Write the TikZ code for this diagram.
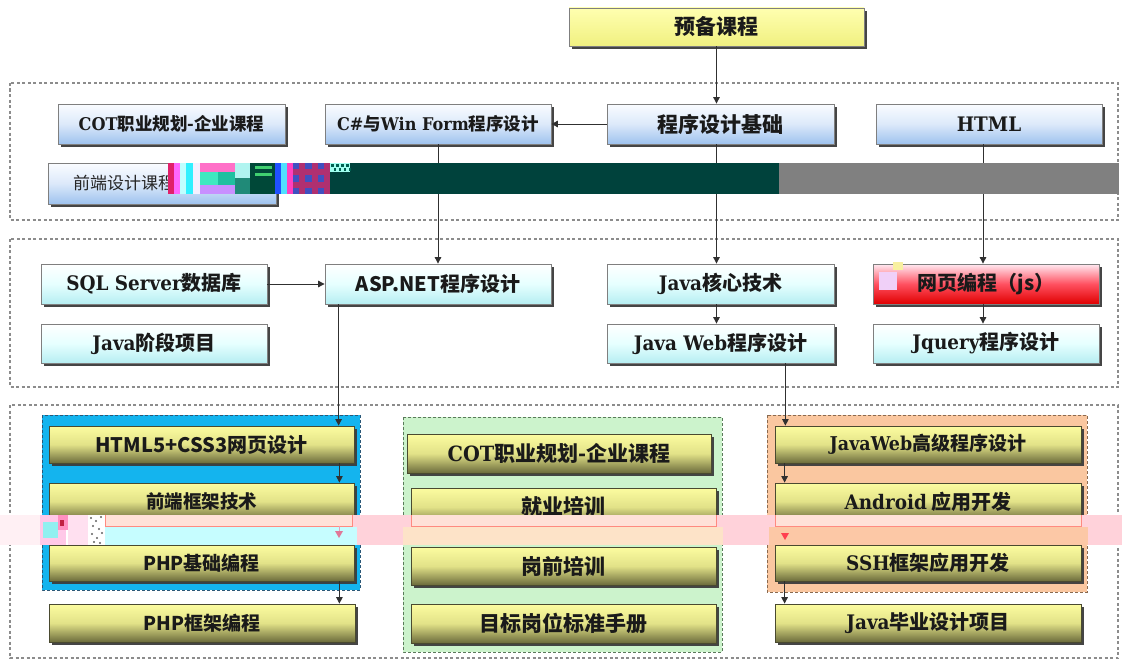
\documentclass[tikz,border=0pt]{standalone}
\usepackage{fontspec}
\setmainfont{Noto Sans CJK SC}
\newfontfamily\ser{DejaVu Serif}[FakeStretch=0.92]
\usetikzlibrary{arrows.meta,shadows}
\definecolor{boxline}{HTML}{7F7F7F}
\definecolor{oliveline}{HTML}{4A4A30}
\definecolor{shadowc}{HTML}{3C3C3C}
\definecolor{txt}{HTML}{1A1A1A}
\definecolor{arrc}{HTML}{303030}
\definecolor{contc}{HTML}{8C8C8C}
\definecolor{rowatop}{HTML}{FAFCFF}
\definecolor{rowamid}{HTML}{DCE9FA}
\definecolor{rowabot}{HTML}{9EC2EE}
\definecolor{rowbtop}{HTML}{FFFFFF}
\definecolor{rowbmid}{HTML}{E6FFFF}
\definecolor{rowbbot}{HTML}{B6EEF2}
\definecolor{redtop}{HTML}{FFEAF2}
\definecolor{redmid}{HTML}{FF5060}
\definecolor{redbot}{HTML}{E00000}
\definecolor{oltop}{HTML}{FCFCA0}
\definecolor{olmid}{HTML}{E2E288}
\definecolor{olbot}{HTML}{6C6C3C}
\definecolor{pretop}{HTML}{FFFFB0}
\definecolor{prebot}{HTML}{F0F080}
\definecolor{gblue}{HTML}{14B4EE}
\definecolor{gbluel}{HTML}{2A5878}
\definecolor{ggreen}{HTML}{CCF3CC}
\definecolor{ggreenl}{HTML}{5A7A5A}
\definecolor{gorange}{HTML}{FAC7A0}
\definecolor{gorangel}{HTML}{8A6A50}
\definecolor{teal}{HTML}{00423C}
\definecolor{grayband}{HTML}{808080}
\definecolor{pinkband}{HTML}{FFD2DA}
\newcommand{\dc}[1]{\definecolor{c#1}{HTML}{#1}}
\dc{E0206A}\dc{FF66FF}\dc{BFFFFF}\dc{30F0FF}\dc{F4F0FF}\dc{FF70C8}\dc{40E8C0}\dc{20C0A0}
\dc{C890FF}\dc{B0F4F0}\dc{208A78}\dc{004838}\dc{40D070}\dc{2050FF}\dc{50E0FF}\dc{FF40C0}
\dc{B03070}\dc{4050C0}\dc{A0FFF0}\dc{006050}\dc{FFF0F4}\dc{C6FDFF}\dc{FDE3C8}\dc{FCC8A6}
\dc{FFE4D8}\dc{FF8A80}\dc{E8A0B8}\dc{E07898}\dc{FF4050}\dc{FFC8E8}\dc{90F0F0}\dc{FF90C0}
\dc{C02040}\dc{FFE0F0}\dc{606060}\dc{F0D0F8}\dc{F8F0A0}
\newcommand{\sr}[1]{{\ser #1}}
\newcommand{\fs}[1]{\fontsize{#1}{#1}\selectfont}
\newcommand{\bx}[7]{\node[#1, minimum width={(#5-#3)*1pt}, minimum height={(#6-#4)*1pt}] (#2) at ({(#3+#5)/2},{(#4+#6)/2}) {#7};}
\tikzset{
  bxbase/.style={draw=boxline, line width=0.8pt, inner sep=0pt, text=txt,
    drop shadow={shadow xshift=3pt, shadow yshift=-3pt, fill=shadowc, opacity=0.95}},
  prebox/.style={bxbase, top color=pretop, bottom color=prebot},
  rowa/.style={bxbase, top color=rowatop, bottom color=rowabot, middle color=rowamid},
  rowb/.style={bxbase, top color=rowbtop, bottom color=rowbbot, middle color=rowbmid},
  redbox/.style={bxbase, top color=redtop, bottom color=redbot, middle color=redmid},
  olbox/.style={bxbase, draw=oliveline, top color=oltop, bottom color=olbot, middle color=olmid},
  cont/.style={draw=contc, line width=1.1pt, dash pattern=on 3pt off 2.5pt},
  grp/.style={line width=1pt, dash pattern=on 3pt off 2pt},
  arr/.style={draw=arrc, line width=0.9pt, -{Triangle[length=6.5pt,width=6.5pt]}}
}
\begin{document}
\begin{tikzpicture}[x=1pt,y=-1pt]
\useasboundingbox (0,0) rectangle (1122,661);
\fill[white] (0,0) rectangle (1122,661);
% containers
\draw[cont] (10,83) rectangle (1118,220);
\draw[cont] (10,239) rectangle (1118,387);
\draw[cont] (10,405) rectangle (1118,658);
% groups
\draw[grp, fill=gblue, draw=gbluel] (42,415) rectangle (360,590);
\draw[grp, fill=ggreen, draw=ggreenl] (403,417) rectangle (722,652);
\draw[grp, fill=gorange, draw=gorangel] (767,415) rectangle (1087,592);
% top
\bx{prebox, font=\bfseries\fs{21}}{pre}{569}{8}{864}{46}{预备课程}
% row 1
\bx{rowa, font=\bfseries\fs{17.5}}{cot}{58}{104}{285}{144}{\sr{COT}职业规划-企业课程}
\bx{rowa, font=\bfseries\fs{17.5}}{cs}{325}{104}{551}{144}{\sr{C\#}与\sr{Win Form}程序设计}
\bx{rowa, font=\bfseries\fs{21}}{prog}{607}{104}{834}{144}{程序设计基础}
\bx{rowa, font=\bfseries\fs{20}}{html}{876}{104}{1102}{144}{\sr{HTML}}
\bx{rowa, font=\fs{17}, text=black!85}{fed}{48}{163}{276}{204}{\hspace*{-76pt}前端设计课程}
% row 2
\bx{rowb, font=\bfseries\fs{20}}{sql}{41}{264}{267}{304}{\sr{SQL Server}数据库}
\bx{rowb, font=\bfseries\fs{20}}{asp}{325}{264}{551}{304}{ASP.NET程序设计}
\bx{rowb, font=\bfseries\fs{20}}{jcore}{607}{264}{834}{304}{\sr{Java}核心技术}
\bx{redbox, font=\bfseries\fs{20}}{web}{873}{264}{1099}{304}{网页编程（js）}
\bx{rowb, font=\bfseries\fs{20}}{jstage}{41}{324}{267}{363}{\sr{Java}阶段项目}
\bx{rowb, font=\bfseries\fs{20}}{jweb}{607}{324}{834}{363}{\sr{Java Web}程序设计}
\bx{rowb, font=\bfseries\fs{20}}{jq}{873}{324}{1099}{363}{\sr{Jquery}程序设计}
% row 3 left
\bx{olbox, font=\bfseries\fs{20}}{h5}{49}{426}{354}{463}{HTML5+CSS3网页设计}
\bx{olbox, font=\bfseries\fs{18.5}}{fe}{49}{483}{354}{520}{前端框架技术}
\bx{olbox, font=\bfseries\fs{19}}{php}{49}{545}{354}{581}{PHP基础编程}
\bx{olbox, font=\bfseries\fs{19}}{phpf}{49}{604}{355}{642}{PHP框架编程}
% row 3 middle
\bx{olbox, font=\bfseries\fs{21}}{cot2}{407}{434}{711}{473}{\sr{COT}职业规划-企业课程}
\bx{olbox, font=\bfseries\fs{21}}{job}{411}{488}{716}{526}{就业培训}
\bx{olbox, font=\bfseries\fs{21}}{pre2}{411}{547}{716}{585}{岗前培训}
\bx{olbox, font=\bfseries\fs{21}}{std}{411}{604}{716}{643}{目标岗位标准手册}
% row 3 right
\bx{olbox, font=\bfseries\fs{19}}{jwa}{775}{426}{1081}{463}{\sr{JavaWeb}高级程序设计}
\bx{olbox, font=\bfseries\fs{20}}{andr}{775}{483}{1081}{520}{\sr{Android} 应用开发}
\bx{olbox, font=\bfseries\fs{20}}{ssh}{775}{545}{1081}{581}{\sr{SSH}框架应用开发}
\bx{olbox, font=\bfseries\fs{20}}{jgrad}{775}{604}{1081}{642}{\sr{Java}毕业设计项目}
% connectors
\draw[arr] (pre.south) -- (pre.south |- prog.north);
\draw[arr] (prog.west) -- (cs.east);
\draw[arr] (cs.south) -- (cs.south |- asp.north);
\draw[arr] ([xshift=-4pt]prog.south) -- ([xshift=-4pt]prog.south |- jcore.north);
\draw[arr] ([xshift=-6pt]html.south) -- ([xshift=-6pt]html.south |- web.north);
\draw[arr] (sql.east) -- (asp.west);
\draw[arr] ([xshift=-4pt]jcore.south) -- ([xshift=-4pt]jcore.south |- jweb.north);
\draw[arr] ([xshift=-3pt]web.south) -- ([xshift=-3pt]web.south |- jq.north);
\draw[arr] ([xshift=14pt]asp.south west) -- ([xshift=14pt]asp.south west |- h5.north);
\draw[arr] ([xshift=-15pt]h5.south east) -- ([xshift=-15pt]h5.south east |- fe.north);
\draw[arr] ([xshift=-15pt]fe.south east) -- ([xshift=-15pt]fe.south east |- php.north);
\draw[arr] ([xshift=-15pt]php.south east) -- ([xshift=-15pt]php.south east |- phpf.north);
\draw[arr] ([xshift=-49pt]jweb.south east) -- ([xshift=-49pt]jweb.south east |- jwa.north);
\draw[arr] ([xshift=10pt]jwa.south west) -- ([xshift=10pt]jwa.south west |- andr.north);
\draw[arr] ([xshift=10pt]andr.south west) -- ([xshift=10pt]andr.south west |- ssh.north);
\draw[arr] ([xshift=10pt]ssh.south west) -- ([xshift=10pt]ssh.south west |- jgrad.north);
% ---- image glitch band, row 1 ----
\fill[teal] (330,163) rectangle (779,194);
\fill[grayband] (779,163) rectangle (1119,194);
\fill[cE0206A] (168,163) rectangle (174,194);
\fill[cFF66FF] (174,163) rectangle (180,194);
\fill[cBFFFFF] (180,163) rectangle (186,194);
\fill[c30F0FF] (186,163) rectangle (193,194);
\fill[cF4F0FF] (193,163) rectangle (200,194);
\fill[cFF70C8] (200,163) rectangle (235,172);
\fill[c40E8C0] (200,172) rectangle (218,185);
\fill[c20C0A0] (218,172) rectangle (235,185);
\fill[cC890FF] (200,185) rectangle (235,194);
\fill[cB0F4F0] (235,163) rectangle (250,178);
\fill[c208A78] (235,178) rectangle (250,194);
\fill[c004838] (250,163) rectangle (275,194);
\fill[c40D070] (255,166) rectangle (272,169);
\fill[c40D070] (255,173) rectangle (272,176);
\fill[c2050FF] (275,163) rectangle (281,194);
\fill[c50E0FF] (281,163) rectangle (287,194);
\fill[cFF40C0] (287,163) rectangle (293,194);
\fill[cB03070] (293,163) rectangle (330,194);
\foreach \i in {0,2,4} \foreach \j in {0,2,4} {\fill[c4050C0] ({293+\i*6.2},{163+\j*6.2}) rectangle ++(6.2,6.2);}
\fill[cA0FFF0] (330,163) rectangle (350,172);
\foreach \i in {0,2,4,6} {\fill[c006050] ({331+\i*2.5},164) rectangle ++(2.5,2.5); \fill[c006050] ({333.5+\i*2.5},168) rectangle ++(2.5,2.5);}
% ---- image glitch band, row 3 ----
\fill[pinkband] (0,515) rectangle (1122,545);
\fill[cFFF0F4] (0,515) rectangle (40,545);
\fill[cC6FDFF] (100,527) rectangle (357,545);
\fill[cFDE3C8] (403,527) rectangle (723,545);
\fill[cFCC8A6] (769,527) rectangle (1088,545);
\filldraw[fill=cFFE4D8, fill opacity=0.85, draw=cFF8A80, line width=0.8pt] (105,515) -- (105,526) -- (352,526) -- (352,515);
\filldraw[fill=cFFE4D8, fill opacity=0.85, draw=cFF8A80, line width=0.8pt] (411,515) -- (411,526) -- (716,526) -- (716,515);
\filldraw[fill=cFFE4D8, fill opacity=0.85, draw=cFF8A80, line width=0.8pt] (775,515) -- (775,526) -- (1081,526) -- (1081,515);
\draw[cE8A0B8, line width=0.8pt] (339,526) -- (339,531);
\fill[cE07898] (335,531) -- (343,531) -- (339,538) -- cycle;
\fill[cFF4050] (781,533) -- (789,533) -- (785,540) -- cycle;
\fill[white] (40,515) rectangle (105,545);
\fill[cFFC8E8] (40,515) rectangle (66,545);
\fill[c90F0F0] (43,522) rectangle (58,538);
\fill[cFF90C0] (58,515) rectangle (68,530);
\fill[cC02040] (60,520) rectangle (64,526);
\fill[cFFE0F0] (68,515) rectangle (88,545);
\foreach \p in {(91,518),(96,521),(101,517),(93,526),(99,529),(92,534),(97,538),(102,533),(94,542),(100,543)} {\fill[c606060] \p circle (1.1);}
% small blotch on the red box
\fill[cF0D0F8] (879,272) rectangle (897,290);
\fill[cF8F0A0] (893,262) rectangle (903,270);
\end{tikzpicture}
\end{document}
